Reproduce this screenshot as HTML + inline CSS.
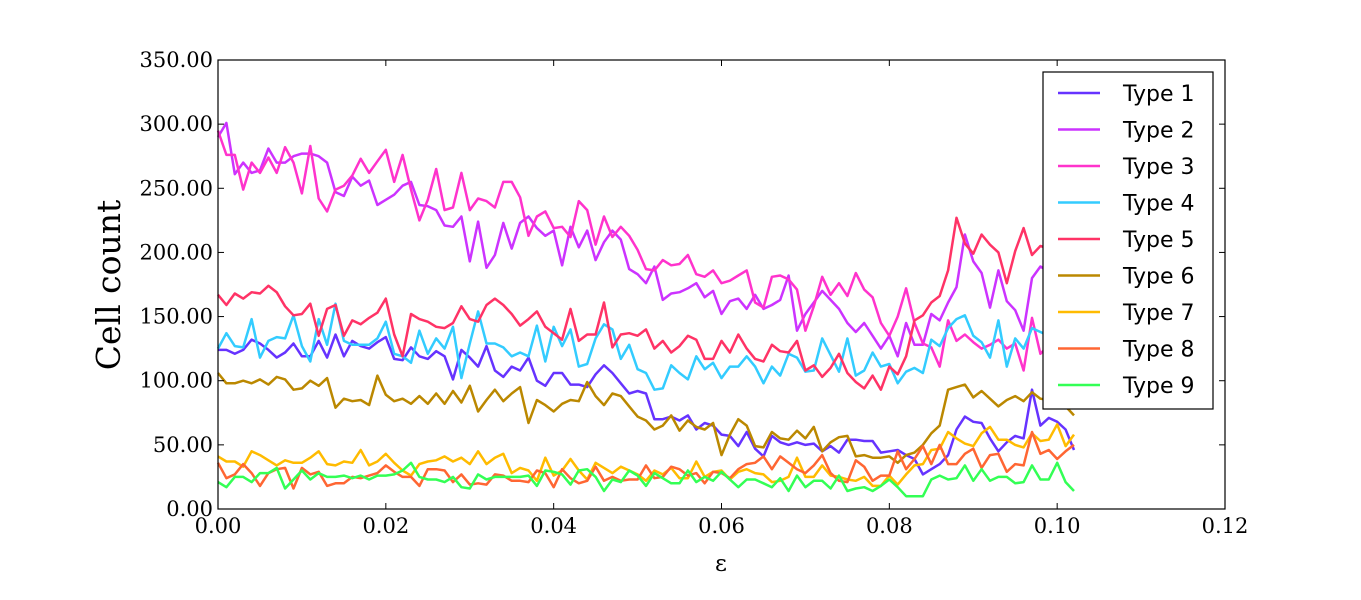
<!DOCTYPE html>
<html><head><meta charset="utf-8"><style>
html,body{margin:0;padding:0;background:#fff;}
svg{display:block;}
</style></head><body>
<svg id="chart" width="1361" height="600" viewBox="0 0 1361 600" xmlns="http://www.w3.org/2000/svg">
<rect x="0" y="0" width="1361" height="600" fill="#fff"/>
<g id="series"></g>
<g id="axes"></g>
<text x="0" y="0" transform="translate(120,285) rotate(-90)" text-anchor="middle" font-family="DejaVu Serif, Liberation Serif, serif" font-size="33">Cell count</text>
<text x="721" y="571" text-anchor="middle" font-family="DejaVu Serif, Liberation Serif, serif" font-size="23">ε</text>
<g id="legend"></g>
</svg>
<script>
const seriesNames=["Type 1","Type 2","Type 3","Type 4","Type 5","Type 6","Type 7","Type 8","Type 9"];
const colors=["#6633ff","#cc33ff","#ff33cc","#33ccff","#ff3366","#bb8800","#ffbb00","#ff6633","#33ff55"];
const xTicks=[0,0.02,0.04,0.06,0.08,0.10,0.12];
const xTickLabels=["0.00","0.02","0.04","0.06","0.08","0.10","0.12"];
const yTicks=[0,50,100,150,200,250,300,350];
const yTickLabels=["0.00","50.00","100.00","150.00","200.00","250.00","300.00","350.00"];
const epsStep=0.001;
const type1=[124,124,121,124,132,129,124,118,122,129,119,119,131,118,136,119,131,127,125,130,134,117,116,126,119,117,123,
119,101,124,118,111,127,108,103,111,108,118,100,96,106,106,97,97,95,105,112,106,98,90,92,90,
70,70,72,69,73,62,67,65,58,57,49,60,47,41,57,52,50,52,50,51,45,49,44,54,54,53,
53,44,45,46,42,39,27,31,35,42,62,72,68,67,55,45,52,57,55,93,65,71,68,62,46];
const type2=[290,301,261,270,262,264,281,270,270,275,277,277,275,270,247,244,259,252,256,237,241,245,252,255,237,236,233,
221,220,228,193,224,188,198,223,203,223,228,219,213,217,190,220,204,217,194,208,217,210,187,183,176,
189,163,168,169,172,176,165,170,152,162,164,156,167,156,159,163,182,139,152,161,170,163,156,145,138,145,
135,125,135,119,145,128,128,152,147,161,173,214,193,184,157,186,162,155,139,180,189,185,183,180,178];
const type3=[295,276,276,249,270,262,274,262,282,270,246,283,242,232,249,252,260,273,262,271,280,255,276,249,225,241,
265,233,235,262,233,242,240,235,255,255,243,213,228,232,219,220,212,240,233,206,228,212,220,213,202,187,
186,194,190,191,198,183,181,186,176,178,182,186,161,157,181,182,179,171,139,158,181,167,176,166,184,171,
165,145,135,150,172,145,129,126,111,147,131,136,130,125,128,132,125,129,108,149,121,128,130,125,122];
const type4=[125,137,127,126,148,118,131,134,133,151,127,115,148,128,160,131,128,128,128,133,146,121,119,114,139,121,133,
125,142,102,129,154,129,129,126,119,122,119,143,115,142,127,140,111,113,133,144,140,117,128,109,106,
93,94,112,106,101,119,109,114,102,111,111,119,111,98,111,104,121,118,107,108,133,120,107,133,104,108,
122,111,113,98,107,110,106,132,127,141,148,151,135,130,118,147,111,133,125,141,138,135,138,140,138];
const type5=[167,159,168,164,169,168,174,169,158,151,152,160,135,156,159,135,147,144,149,153,164,136,119,152,148,146,142,
141,145,158,148,146,159,164,159,152,143,148,154,142,137,132,156,131,136,136,161,126,136,137,135,140,
125,131,122,127,135,132,117,117,131,122,136,125,117,115,128,123,122,131,108,112,103,110,121,106,99,94,
104,93,111,105,119,147,151,161,166,186,227,207,199,214,206,200,176,201,219,198,205,203,200,200,198];
const type6=[106,98,98,100,98,101,97,103,101,93,94,100,96,102,79,86,84,85,81,104,89,84,86,82,88,82,90,
82,92,83,96,76,85,93,84,90,95,67,85,81,76,82,85,84,99,88,81,90,88,80,72,69,
62,65,73,61,69,64,62,67,42,58,70,65,49,48,60,55,54,61,55,64,45,52,56,57,41,42,
40,40,41,36,42,44,50,59,65,93,95,97,87,92,86,80,85,88,84,91,86,85,82,80,73];
const type7=[41,37,37,33,45,42,38,34,38,36,36,40,45,35,34,37,36,46,34,37,43,36,30,26,35,37,38,
41,37,40,35,45,35,40,43,28,32,30,22,40,26,30,39,30,23,36,32,28,33,30,27,22,
30,27,32,24,24,37,25,29,30,23,29,31,28,27,21,22,25,40,25,25,34,26,25,23,22,25,
18,18,26,19,27,34,35,46,47,60,55,51,49,59,64,54,54,50,48,59,53,54,66,49,58];
const type8=[36,24,27,35,28,18,28,31,32,16,32,27,29,18,20,20,25,24,26,28,34,29,25,25,18,31,31,
30,21,27,19,20,19,27,26,22,22,21,30,28,17,31,24,20,22,33,22,25,22,23,23,34,
24,25,33,31,26,28,20,29,28,24,31,35,36,41,31,41,36,31,28,34,42,28,22,21,38,33,
22,26,26,45,31,39,49,35,50,35,35,43,47,32,42,43,29,35,34,60,43,46,39,45,50];
const type9=[21,17,25,25,21,28,28,32,16,23,30,23,28,25,25,26,24,26,23,26,26,27,30,36,25,23,23,
21,25,17,16,27,23,25,25,25,25,26,18,30,29,27,19,30,31,25,14,23,21,30,26,18,
28,24,20,20,30,21,25,22,29,23,17,23,23,20,17,24,14,26,17,22,22,16,26,14,16,17,
14,18,23,17,10,10,10,23,26,23,24,34,22,31,22,25,25,20,21,34,23,23,36,21,14];
const allSeries=[type1,type2,type3,type4,type5,type6,type7,type8,type9];

const NS="http://www.w3.org/2000/svg";
const L=218,R=1225,T=60,B=509;
const xScale=v=>L+v/0.12*(R-L);
const yScale=v=>B-v/350*(B-T);
function mk(tag,attrs,parent){const e=document.createElementNS(NS,tag);for(const k in attrs)e.setAttribute(k,attrs[k]);parent.appendChild(e);return e;}

const sg=document.getElementById('series');
allSeries.forEach((arr,si)=>{
  const pts=arr.map((v,i)=>xScale(i*epsStep).toFixed(1)+","+yScale(v).toFixed(1)).join(" ");
  const pl=mk('polyline',{points:pts,fill:'none',stroke:colors[si],'stroke-width':2.5,'stroke-linejoin':'round'},sg);
  
  
});

const ax=document.getElementById('axes');
const frame=mk('rect',{x:L,y:T,width:R-L,height:B-T,fill:'none',stroke:'#000','stroke-width':1.2},ax);


xTicks.forEach((t,i)=>{
  const x=xScale(t);
  mk('line',{x1:x,y1:B,x2:x,y2:B-6,stroke:'#000'},ax);
  mk('line',{x1:x,y1:T,x2:x,y2:T+6,stroke:'#000'},ax);
  const tx=mk('text',{x:x,y:B+24,'text-anchor':'middle','font-family':'DejaVu Serif, Liberation Serif, serif','font-size':21},ax);
  tx.textContent=xTickLabels[i];
  
  
});
yTicks.forEach((t,i)=>{
  const y=yScale(t);
  mk('line',{x1:L,y1:y,x2:L+6,y2:y,stroke:'#000'},ax);
  mk('line',{x1:R,y1:y,x2:R-6,y2:y,stroke:'#000'},ax);
  const tx=mk('text',{x:L-5,y:y+7,'text-anchor':'end','font-family':'DejaVu Serif, Liberation Serif, serif','font-size':21},ax);
  tx.textContent=yTickLabels[i];
  
  
});

const lg=document.getElementById('legend');
mk('rect',{x:1043,y:72,width:170,height:337,fill:'#fff',stroke:'#000','stroke-width':1.2},lg);
seriesNames.forEach((n,i)=>{
  const y=93+i*36.5;
  const ln=mk('line',{x1:1058,y1:y,x2:1100,y2:y,stroke:colors[i],'stroke-width':2.5},lg);
  
  
  const tx=mk('text',{x:1123,y:y+8,'font-family':'DejaVu Sans, Liberation Sans, sans-serif','font-size':22},lg);
  tx.textContent=n;
  
  
});
</script>
</body></html>
